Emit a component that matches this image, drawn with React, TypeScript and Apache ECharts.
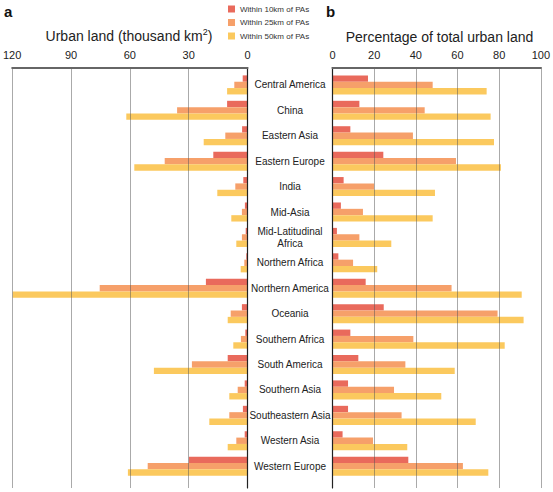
import { useEffect, useRef } from 'react';
import * as echarts from 'echarts';

const regions = [
  'Central America',
  'China',
  'Eastern Asia',
  'Eastern Europe',
  'India',
  'Mid-Asia',
  'Mid-Latitudinal\nAfrica',
  'Northern Africa',
  'Northern America',
  'Oceania',
  'Southern Africa',
  'South America',
  'Southern Asia',
  'Southeastern Asia',
  'Western Asia',
  'Western Europe',
];

const seriesNames = ['Within 10km of PAs', 'Within 25km of PAs', 'Within 50km of PAs'];

// urban land, thousand km2
const area10 = [2.4, 10.2, 2.7, 17.1, 2.1, 1.3, 0.9, 0.6, 20.8, 2.8, 1.1, 9.9, 1.4, 2.3, 1.4, 29.3];
const area25 = [6.6, 35.2, 11.1, 41.4, 6.1, 2.8, 2.8, 1.6, 73.9, 8.4, 3.3, 27.8, 4.9, 9.1, 5.6, 49.9];
const area50 = [10.2, 60.6, 21.9, 56.6, 15.1, 8.1, 5.6, 3.4, 117.4, 9.9, 7.1, 46.8, 9.1, 19.1, 9.9, 59.8];

// percentage of total urban land
const pct10 = [16.9, 12.8, 8.5, 24.2, 5.3, 4.0, 2.1, 2.8, 15.8, 24.4, 8.5, 12.3, 7.4, 7.4, 4.8, 36.1];
const pct25 = [47.7, 43.9, 38.3, 58.8, 19.8, 14.5, 12.8, 9.8, 56.7, 78.6, 38.5, 34.7, 29.3, 32.9, 19.3, 62.1];
const pct50 = [73.4, 75.3, 76.9, 80.2, 48.8, 47.7, 28.0, 21.3, 90.1, 91.0, 82.0, 58.2, 51.8, 68.2, 35.6, 74.2];

const colors = ['#E96A5C', '#F6A06A', '#FBC95E'];
const FONT = '"Liberation Sans", Arial, Helvetica, sans-serif';

export default function App() {
  const chartRef = useRef<HTMLDivElement>(null);

  useEffect(() => {
    document.body.style.margin = '0';
    if (!chartRef.current) return;
    const chart = echarts.init(chartRef.current, null, { renderer: 'svg' });

    // grids 0/2 carry the axis frame + gridlines, grids 1/3 carry the bars
    const frameTop = 67.5;
    const frameH = 420.5;
    const barTop = 72.2;
    const barH = 406.7;

    const frameX = (min: number, max: number, interval: number, inverse: boolean, gridIndex: number) => ({
      type: 'value' as const,
      gridIndex,
      position: 'top' as const,
      min,
      max,
      interval,
      inverse,
      z: 5,
      axisLine: { show: true, lineStyle: { color: '#666', width: 2 } },
      axisTick: { show: false },
      axisLabel: {
        color: '#222',
        fontSize: 11,
        fontFamily: FONT,
        margin: 7,
        showMinLabel: true,
        showMaxLabel: true,
      },
      splitLine: { show: true, lineStyle: { color: '#555', type: 'dotted' as const, width: 1 } },
    });

    const hiddenX = (max: number, inverse: boolean, gridIndex: number) => ({
      type: 'value' as const,
      gridIndex,
      min: 0,
      max,
      inverse,
      show: false,
    });

    const frameY = (position: 'left' | 'right', gridIndex: number) => ({
      type: 'category' as const,
      gridIndex,
      data: regions,
      inverse: true,
      position,
      z: 5,
      axisLine: { show: true, lineStyle: { color: '#222', width: 1.2 } },
      axisTick: { show: false },
      axisLabel: { show: false },
      splitLine: { show: false },
    });

    const bar = (name: string, data: number[], color: string, xAxisIndex: number) => ({
      type: 'bar' as const,
      name,
      data,
      xAxisIndex,
      yAxisIndex: xAxisIndex,
      barGap: '0%',
      barCategoryGap: '25%',
      itemStyle: { color },
    });

    chart.setOption({
      animation: false,
      textStyle: { fontFamily: FONT },
      legend: {
        data: seriesNames,
        orient: 'vertical',
        left: 228,
        top: 4,
        padding: 0,
        itemGap: 3.5,
        itemWidth: 7,
        itemHeight: 7,
        icon: 'rect',
        textStyle: { fontSize: 8, color: '#333', fontFamily: FONT, lineHeight: 10 },
      },
      grid: [
        { left: 7.5, width: 240, top: frameTop, height: frameH },
        { left: 7.5, width: 240, top: barTop, height: barH },
        { left: 332.5, width: 210, top: frameTop, height: frameH },
        { left: 332.5, width: 210, top: barTop, height: barH },
      ],
      xAxis: [
        frameX(0, 120, 30, true, 0),
        hiddenX(120, true, 1),
        frameX(0, 100, 20, false, 2),
        hiddenX(100, false, 3),
      ],
      yAxis: [
        frameY('right', 0),
        {
          type: 'category',
          gridIndex: 1,
          data: regions,
          inverse: true,
          position: 'right',
          axisLine: { show: false },
          axisTick: { show: false },
          splitLine: { show: false },
          axisLabel: {
            color: '#222',
            fontSize: 10,
            fontFamily: FONT,
            align: 'center',
            margin: 42.5,
            lineHeight: 11.5,
            interval: 0,
          },
        },
        frameY('left', 2),
        {
          type: 'category',
          gridIndex: 3,
          data: regions,
          inverse: true,
          show: false,
        },
      ],
      series: [
        bar(seriesNames[0], area10, colors[0], 1),
        bar(seriesNames[1], area25, colors[1], 1),
        bar(seriesNames[2], area50, colors[2], 1),
        bar(seriesNames[0], pct10, colors[0], 3),
        bar(seriesNames[1], pct25, colors[1], 3),
        bar(seriesNames[2], pct50, colors[2], 3),
      ],
      graphic: [
        {
          type: 'text',
          x: 4,
          y: 11,
          style: { text: 'a', fontSize: 15, fontWeight: 'bold', fontFamily: FONT, fill: '#111', verticalAlign: 'middle' },
        },
        {
          type: 'text',
          x: 326,
          y: 11,
          style: { text: 'b', fontSize: 15, fontWeight: 'bold', fontFamily: FONT, fill: '#111', verticalAlign: 'middle' },
        },
        {
          type: 'text',
          x: 129,
          y: 36,
          style: {
            text: '{m|Urban land (thousand km}{s|2}{m|)}',
            align: 'center',
            verticalAlign: 'middle',
            fill: '#222',
            rich: {
              m: { fontSize: 14, fontFamily: FONT, fill: '#222' },
              s: { fontSize: 9, fontFamily: FONT, fill: '#222', padding: [0, 0, 8, 0] },
            },
          },
        },
        {
          type: 'text',
          x: 439.5,
          y: 36.5,
          style: {
            text: 'Percentage of total urban land',
            align: 'center',
            verticalAlign: 'middle',
            fontSize: 14,
            fontFamily: FONT,
            fill: '#222',
          },
        },
      ],
    });

    return () => {
      chart.dispose();
    };
  }, []);

  return <div ref={chartRef} style={{ width: '553px', height: '492px' }} />;
}
